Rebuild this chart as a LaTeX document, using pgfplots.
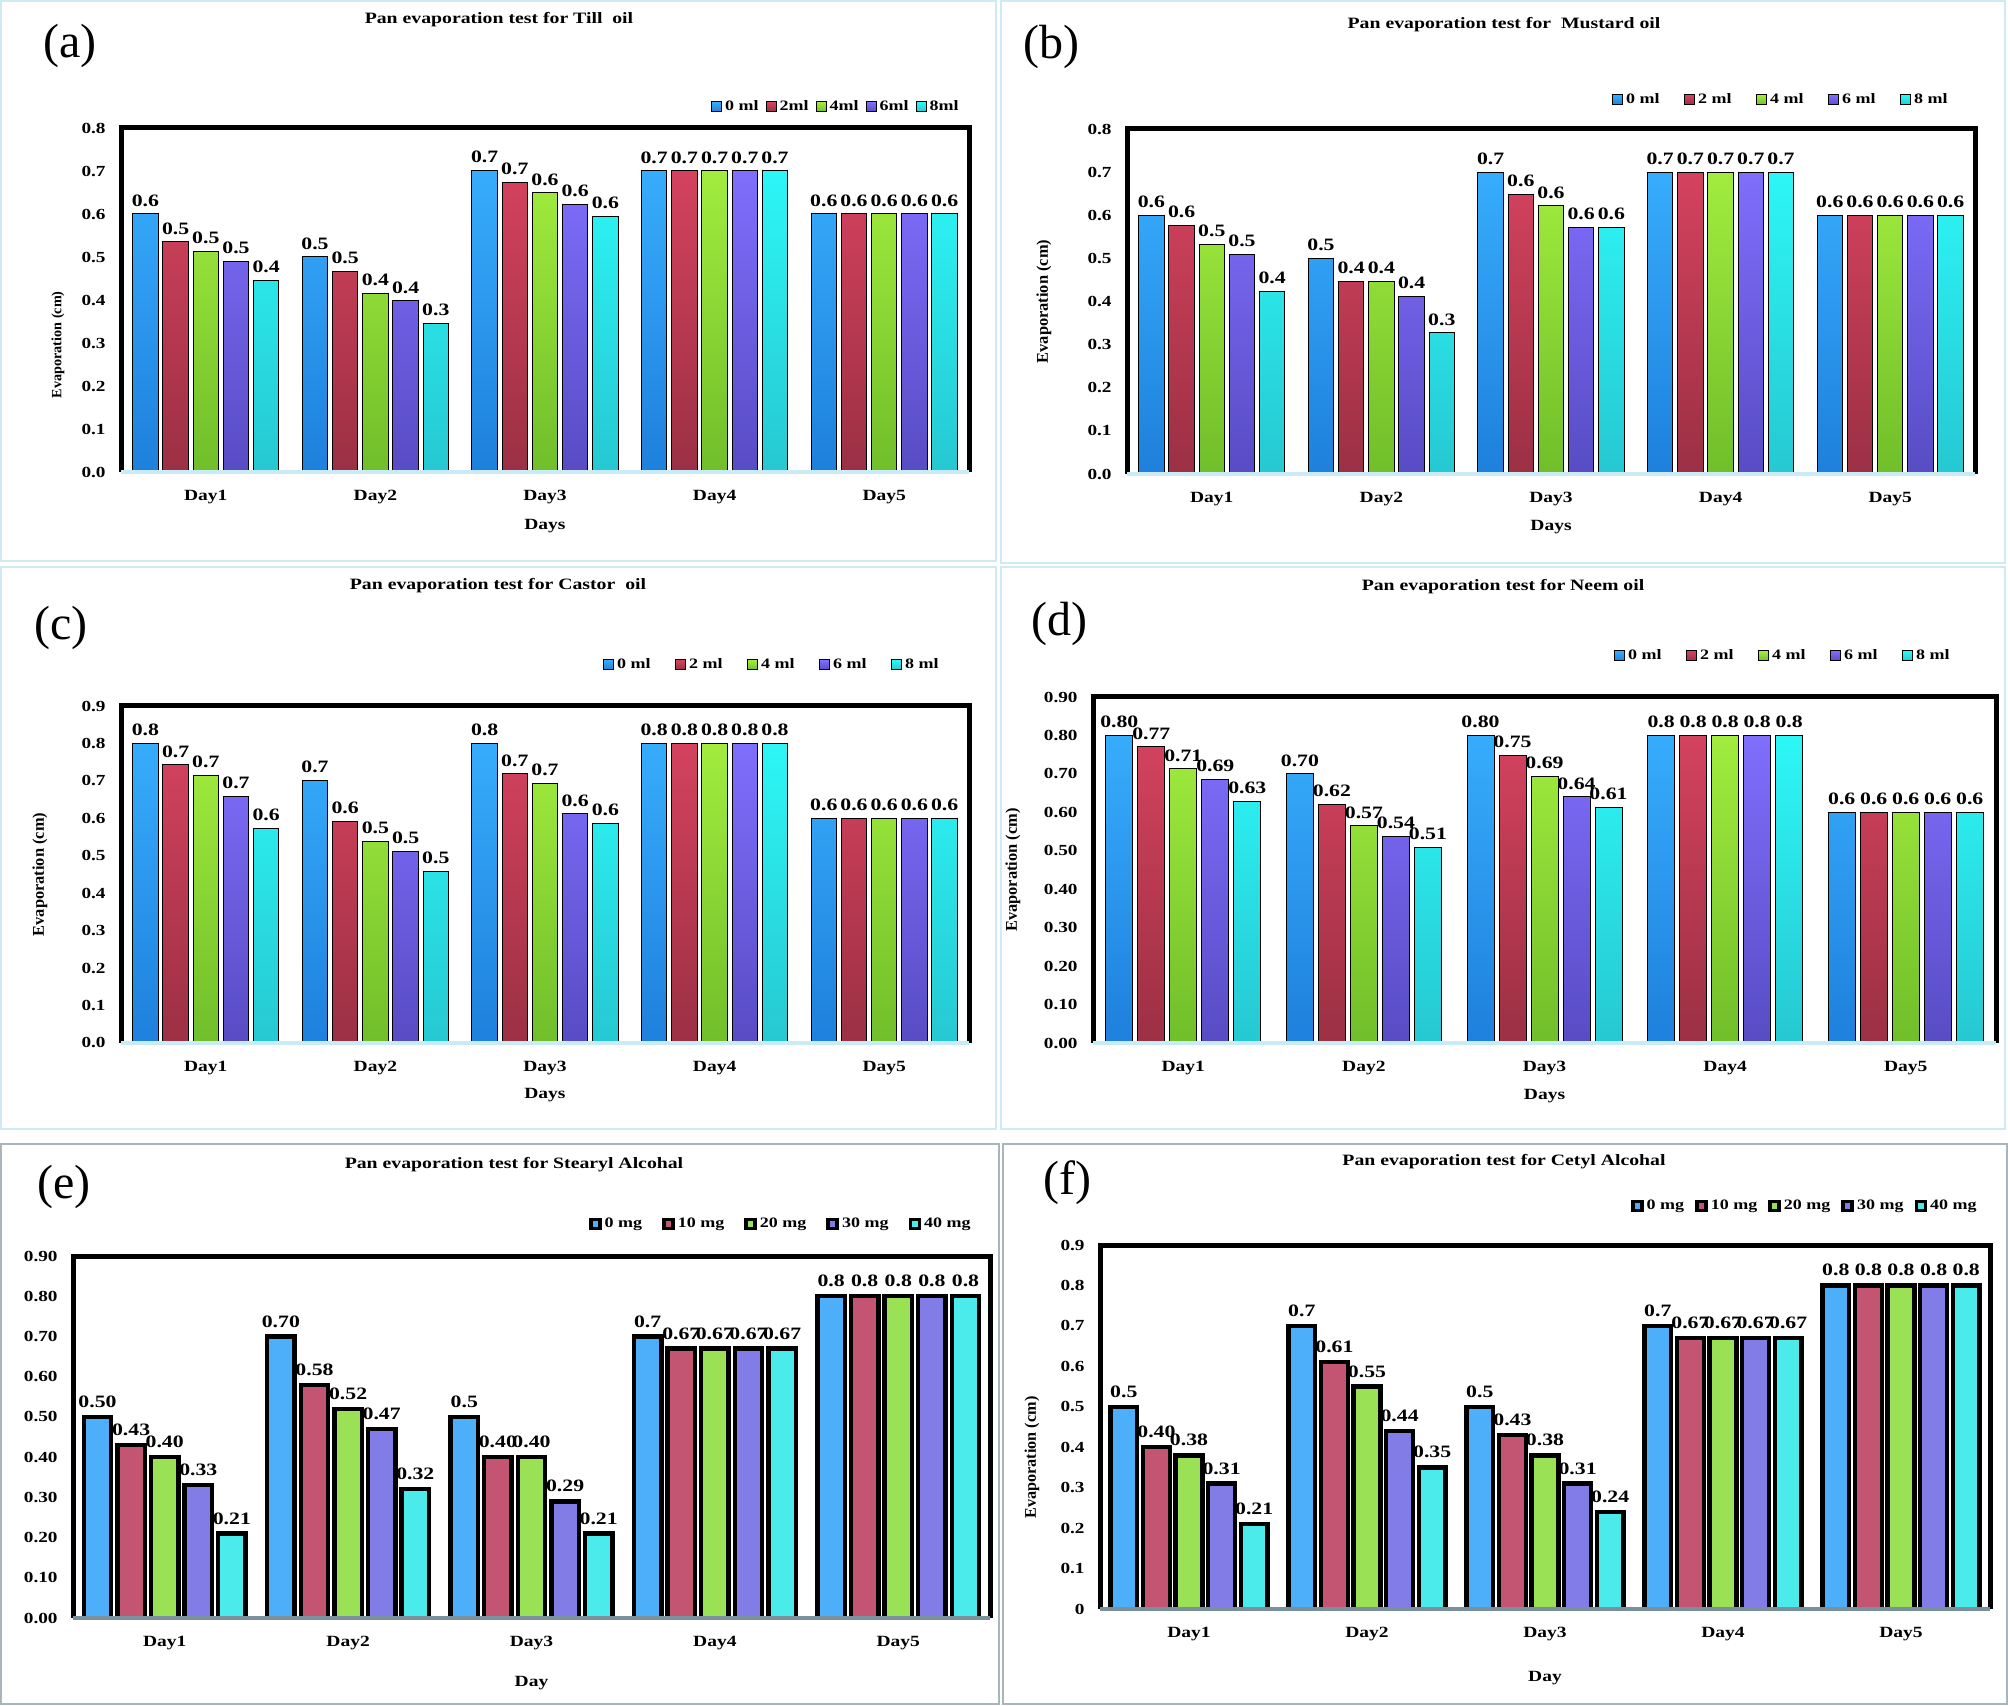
\documentclass[border=0pt]{standalone}
\usepackage{fontspec}
\setmainfont{Liberation Serif}
\newfontfamily\wide{Liberation Serif}[FakeStretch=1.25]
\usepackage{pgfplots}
\pgfplotsset{compat=1.18}

\newcommand{\wf}[1]{\wide\bfseries\fontsize{#1}{#1}\selectfont}

% gradient bar colours (top / bottom)
\definecolor{bT}{RGB}{55,172,252}  \definecolor{bB}{RGB}{30,128,220}
\definecolor{rT}{RGB}{212,66,94}   \definecolor{rB}{RGB}{155,48,68}
\definecolor{gT}{RGB}{162,236,62}  \definecolor{gB}{RGB}{112,190,42}
\definecolor{pT}{RGB}{128,110,252} \definecolor{pB}{RGB}{88,76,196}
\definecolor{cT}{RGB}{45,246,246}  \definecolor{cB}{RGB}{38,200,210}
% flat colours for the alcohol panels
\definecolor{bF}{RGB}{77,175,250}
\definecolor{rF}{RGB}{195,85,115}
\definecolor{gF}{RGB}{155,225,85}
\definecolor{pF}{RGB}{130,125,230}
\definecolor{cF}{RGB}{75,235,235}
\definecolor{baseA}{RGB}{200,235,245}
\definecolor{baseE}{RGB}{120,145,155}
\definecolor{frameA}{RGB}{208,234,244}
\definecolor{frameE}{RGB}{168,182,188}

\pgfplotsset{
  panel/.style={
    scale only axis, anchor=north west, clip=false,
    xmin=0.5, xmax=5.5, ymin=0,
    xtick={1,2,3,4,5}, xticklabels={Day1,Day2,Day3,Day4,Day5},
    major tick length=0pt,
    axis line style={draw=none},
    /pgf/number format/assume math mode=true,
    tick label style={font=\wf{7.7}},
    xticklabel style={anchor=center, inner sep=0pt, yshift=-12.5pt, font=\wf{7.8}},
    yticklabel style={anchor=east, inner sep=0pt, xshift=-7.5pt},
    xlabel style={at={(axis description cs:0.5,0)}, anchor=center, font=\wf{7.8}},
    ylabel style={anchor=center, font=\bfseries\fontsize{8.2}{8.2}\selectfont},
    nodes near coords, point meta=explicit symbolic,
    every node near coord/.append style={font=\wf{8.7}, anchor=south, inner sep=0pt, yshift=3.5pt},
    legend columns=5,
    legend style={draw=none, fill=none, inner sep=0pt, font=\wf{7.2},
      nodes={inner sep=1.5pt}, at={(1,1)}, anchor=east},
  },
  oil/.style={panel,
    after end axis/.code={
      \draw[line width=2.5pt, line join=miter] (rel axis cs:0,0) -- (rel axis cs:0,1) -- (rel axis cs:1,1) -- (rel axis cs:1,0);
      \draw[line width=2pt, baseA] (rel axis cs:0,0) -- (rel axis cs:1,0);}},
  alc/.style={panel,
    after end axis/.code={
      \draw[line width=2.5pt, line join=miter] (rel axis cs:0,0) -- (rel axis cs:0,1) -- (rel axis cs:1,1) -- (rel axis cs:1,0);
      \draw[line width=2.2pt, baseE] (rel axis cs:0,0) -- (rel axis cs:1,0);}},
  gbar/.style={draw=black, line width=0.5pt,
    legend image code/.code={\draw[##1] (0pt,-2.5pt) rectangle (5pt,2.5pt);}},
  fbar/.style={draw=black, line width=2.2pt,
    legend image code/.code={\draw[##1, line width=1.8pt] (0pt,-2.25pt) rectangle (4.5pt,2.25pt);}},
  g1/.style={gbar, top color=bT, bottom color=bB},
  g2/.style={gbar, top color=rT, bottom color=rB},
  g3/.style={gbar, top color=gT, bottom color=gB},
  g4/.style={gbar, top color=pT, bottom color=pB},
  g5/.style={gbar, top color=cT, bottom color=cB},
  f1/.style={fbar, fill=bF},
  f2/.style={fbar, fill=rF},
  f3/.style={fbar, fill=gF},
  f4/.style={fbar, fill=pF},
  f5/.style={fbar, fill=cF},
  one/.style={yticklabel style={/pgf/number format/fixed, /pgf/number format/fixed zerofill, /pgf/number format/precision=1}},
  two/.style={yticklabel style={/pgf/number format/fixed, /pgf/number format/fixed zerofill, /pgf/number format/precision=2}},
}

\begin{document}
\begin{tikzpicture}
\fill[white] (0,0) rectangle (1004pt,852.5pt);
\path[use as bounding box] (0,0) rectangle (1004pt,852.5pt);

% panel frames
\draw[frameA, line width=1pt] (0.5pt,572pt) rectangle (498pt,852pt);
\draw[frameA, line width=1pt] (500.5pt,571pt) rectangle (1002.5pt,852pt);
\draw[frameA, line width=1pt] (0.5pt,288pt) rectangle (498pt,569pt);
\draw[frameA, line width=1pt] (500.5pt,288pt) rectangle (1002.5pt,569pt);
\draw[frameE, line width=1pt] (0.5pt,0.5pt) rectangle (499.5pt,280.5pt);
\draw[frameE, line width=1pt] (501.5pt,0.5pt) rectangle (1003.5pt,280.5pt);

% titles
\node[font=\wf{7.9}] at (249.5pt,842.5pt) {Pan evaporation test for Till~ oil};
\node[font=\wf{7.9}] at (752pt,840pt) {Pan evaporation test for~ Mustard oil};
\node[font=\wf{7.9}] at (249pt,559.5pt) {Pan evaporation test for Castor~ oil};
\node[font=\wf{7.9}] at (751.5pt,559pt) {Pan evaporation test for Neem oil};
\node[font=\wf{7.9}] at (257pt,270pt) {Pan evaporation test for Stearyl Alcohal};
\node[font=\wf{7.9}] at (752pt,271.5pt) {Pan evaporation test for Cetyl Alcohal};

% panel letters
\node[font=\fontsize{24}{24}\selectfont] at (35pt,829.5pt) {(a)};
\node[font=\fontsize{24}{24}\selectfont] at (525.5pt,829pt) {(b)};
\node[font=\fontsize{24}{24}\selectfont] at (30.5pt,538.5pt) {(c)};
\node[font=\fontsize{24}{24}\selectfont] at (529.5pt,540.5pt) {(d)};
\node[font=\fontsize{24}{24}\selectfont] at (32pt,259pt) {(e)};
\node[font=\fontsize{24}{24}\selectfont] at (533.5pt,261pt) {(f)};

% (a) Till oil
\begin{axis}[oil, one, at={(60.5pt,788.5pt)}, width=424pt, height=172pt,
  ybar=2.35pt, bar width=12.75pt,
  ymax=0.8, ytick={0,0.1,0.2,0.3,0.4,0.5,0.6,0.7,0.8},
  xlabel={Days}, xlabel style={yshift=-27pt},
  ylabel={Evaporation (cm)},
  ylabel style={at={(axis description cs:-0.0743,0.37)}, font=\bfseries\fontsize{7.1}{7.1}\selectfont},
  legend style={xshift=-3.5pt, yshift=10.5pt, /tikz/every even column/.append style={column sep=2pt}}]
\addplot[g1] coordinates {(1,0.600) [0.6] (2,0.500) [0.5] (3,0.701) [0.7] (4,0.700) [0.7] (5,0.600) [0.6]};
\addplot[g2] coordinates {(1,0.535) [0.5] (2,0.466) [0.5] (3,0.674) [0.7] (4,0.700) [0.7] (5,0.600) [0.6]};
\addplot[g3] coordinates {(1,0.513) [0.5] (2,0.415) [0.4] (3,0.649) [0.6] (4,0.700) [0.7] (5,0.600) [0.6]};
\addplot[g4] coordinates {(1,0.490) [0.5] (2,0.398) [0.4] (3,0.622) [0.6] (4,0.700) [0.7] (5,0.600) [0.6]};
\addplot[g5] coordinates {(1,0.445) [0.4] (2,0.345) [0.3] (3,0.595) [0.6] (4,0.700) [0.7] (5,0.600) [0.6]};
\legend{0 ml,2ml,4ml,6ml,8ml}
\end{axis}

% (b) Mustard oil
\begin{axis}[oil, one, at={(563.5pt,788pt)}, width=424pt, height=172.5pt,
  ybar=2.35pt, bar width=12.75pt,
  ymax=0.8, ytick={0,0.1,0.2,0.3,0.4,0.5,0.6,0.7,0.8},
  xlabel={Days}, xlabel style={yshift=-26.5pt},
  ylabel={Evaporation (cm)},
  ylabel style={at={(axis description cs:-0.0979,0.5)}},
  legend style={xshift=-12pt, yshift=14.5pt, /tikz/every even column/.append style={column sep=10.75pt}}]
\addplot[g1] coordinates {(1,0.600) [0.6] (2,0.500) [0.5] (3,0.699) [0.7] (4,0.700) [0.7] (5,0.600) [0.6]};
\addplot[g2] coordinates {(1,0.577) [0.6] (2,0.447) [0.4] (3,0.648) [0.6] (4,0.700) [0.7] (5,0.600) [0.6]};
\addplot[g3] coordinates {(1,0.533) [0.5] (2,0.447) [0.4] (3,0.622) [0.6] (4,0.700) [0.7] (5,0.600) [0.6]};
\addplot[g4] coordinates {(1,0.510) [0.5] (2,0.412) [0.4] (3,0.572) [0.6] (4,0.700) [0.7] (5,0.600) [0.6]};
\addplot[g5] coordinates {(1,0.423) [0.4] (2,0.327) [0.3] (3,0.572) [0.6] (4,0.700) [0.7] (5,0.600) [0.6]};
\legend{0 ml,2 ml,4 ml,6 ml,8 ml}
\end{axis}

% (c) Castor oil
\begin{axis}[oil, one, at={(60.5pt,499.5pt)}, width=424pt, height=168.5pt,
  ybar=2.35pt, bar width=12.75pt,
  ymax=0.9, ytick={0,0.1,0.2,0.3,0.4,0.5,0.6,0.7,0.8,0.9},
  xlabel={Days}, xlabel style={yshift=-26pt},
  ylabel={Evaporation (cm)},
  ylabel style={at={(axis description cs:-0.0955,0.5)}},
  legend style={xshift=-13.5pt, yshift=20.5pt, /tikz/every even column/.append style={column sep=10.75pt}}]
\addplot[g1] coordinates {(1,0.800) [0.8] (2,0.702) [0.7] (3,0.800) [0.8] (4,0.800) [0.8] (5,0.600) [0.6]};
\addplot[g2] coordinates {(1,0.743) [0.7] (2,0.592) [0.6] (3,0.719) [0.7] (4,0.800) [0.8] (5,0.600) [0.6]};
\addplot[g3] coordinates {(1,0.715) [0.7] (2,0.539) [0.5] (3,0.693) [0.7] (4,0.800) [0.8] (5,0.600) [0.6]};
\addplot[g4] coordinates {(1,0.658) [0.7] (2,0.511) [0.5] (3,0.612) [0.6] (4,0.800) [0.8] (5,0.600) [0.6]};
\addplot[g5] coordinates {(1,0.573) [0.6] (2,0.458) [0.5] (3,0.586) [0.6] (4,0.800) [0.8] (5,0.600) [0.6]};
\legend{0 ml,2 ml,4 ml,6 ml,8 ml}
\end{axis}

% (d) Neem oil
\begin{axis}[oil, two, at={(546.5pt,504pt)}, width=451.5pt, height=173pt,
  ybar=2.5pt, bar width=13.5pt,
  ymax=0.9, ytick={0,0.1,0.2,0.3,0.4,0.5,0.6,0.7,0.8,0.9},
  xlabel={Days}, xlabel style={yshift=-26.5pt},
  ylabel={Evaporation (cm)},
  ylabel style={at={(axis description cs:-0.0886,0.5)}},
  legend style={xshift=-21.5pt, yshift=20.5pt, /tikz/every even column/.append style={column sep=10.75pt}}]
\addplot[g1] coordinates {(1,0.800) [0.80] (2,0.700) [0.70] (3,0.800) [0.80] (4,0.800) [0.8] (5,0.600) [0.6]};
\addplot[g2] coordinates {(1,0.770) [0.77] (2,0.620) [0.62] (3,0.748) [0.75] (4,0.800) [0.8] (5,0.600) [0.6]};
\addplot[g3] coordinates {(1,0.713) [0.71] (2,0.565) [0.57] (3,0.693) [0.69] (4,0.800) [0.8] (5,0.600) [0.6]};
\addplot[g4] coordinates {(1,0.686) [0.69] (2,0.537) [0.54] (3,0.640) [0.64] (4,0.800) [0.8] (5,0.600) [0.6]};
\addplot[g5] coordinates {(1,0.628) [0.63] (2,0.509) [0.51] (3,0.612) [0.61] (4,0.800) [0.8] (5,0.600) [0.6]};
\legend{0 ml,2 ml,4 ml,6 ml,8 ml}
\end{axis}

% (e) Stearyl alcohol
\begin{axis}[alc, two, at={(36.5pt,224.5pt)}, width=458.5pt, height=181pt,
  ybar=3.05pt, bar width=13.75pt,
  ymax=0.9, ytick={0,0.1,0.2,0.3,0.4,0.5,0.6,0.7,0.8,0.9},
  xlabel={Day}, xlabel style={yshift=-32.5pt},
  legend style={xshift=-8pt, yshift=16pt, /tikz/every even column/.append style={column sep=8.5pt}}]
\addplot[f1] coordinates {(1,0.50) [0.50] (2,0.70) [0.70] (3,0.50) [0.5] (4,0.70) [0.7] (5,0.80) [0.8]};
\addplot[f2] coordinates {(1,0.43) [0.43] (2,0.58) [0.58] (3,0.40) [0.40] (4,0.67) [0.67] (5,0.80) [0.8]};
\addplot[f3] coordinates {(1,0.40) [0.40] (2,0.52) [0.52] (3,0.40) [0.40] (4,0.67) [0.67] (5,0.80) [0.8]};
\addplot[f4] coordinates {(1,0.33) [0.33] (2,0.47) [0.47] (3,0.29) [0.29] (4,0.67) [0.67] (5,0.80) [0.8]};
\addplot[f5] coordinates {(1,0.21) [0.21] (2,0.32) [0.32] (3,0.21) [0.21] (4,0.67) [0.67] (5,0.80) [0.8]};
\legend{0 mg,10 mg,20 mg,30 mg,40 mg}
\end{axis}

% (f) Cetyl alcohol
\begin{axis}[alc, at={(550pt,230pt)}, width=445pt, height=182pt,
  ybar=2.95pt, bar width=13.35pt,
  ymax=0.9, ytick={0,0.1,0.2,0.3,0.4,0.5,0.6,0.7,0.8,0.9},
  yticklabel style={/pgf/number format/fixed, /pgf/number format/precision=1},
  xlabel={Day}, xlabel style={yshift=-34.5pt},
  ylabel={Evaporation (cm)},
  ylabel style={at={(axis description cs:-0.0764,0.416)}, font=\bfseries\fontsize{8.1}{8.1}\selectfont},
  legend style={xshift=-5pt, yshift=19.5pt, /tikz/every even column/.append style={column sep=4pt}}]
\addplot[f1] coordinates {(1,0.50) [0.5] (2,0.70) [0.7] (3,0.50) [0.5] (4,0.70) [0.7] (5,0.80) [0.8]};
\addplot[f2] coordinates {(1,0.40) [0.40] (2,0.61) [0.61] (3,0.43) [0.43] (4,0.67) [0.67] (5,0.80) [0.8]};
\addplot[f3] coordinates {(1,0.38) [0.38] (2,0.55) [0.55] (3,0.38) [0.38] (4,0.67) [0.67] (5,0.80) [0.8]};
\addplot[f4] coordinates {(1,0.31) [0.31] (2,0.44) [0.44] (3,0.31) [0.31] (4,0.67) [0.67] (5,0.80) [0.8]};
\addplot[f5] coordinates {(1,0.21) [0.21] (2,0.35) [0.35] (3,0.24) [0.24] (4,0.67) [0.67] (5,0.80) [0.8]};
\legend{0 mg,10 mg,20 mg,30 mg,40 mg}
\end{axis}
\end{tikzpicture}
\end{document}
